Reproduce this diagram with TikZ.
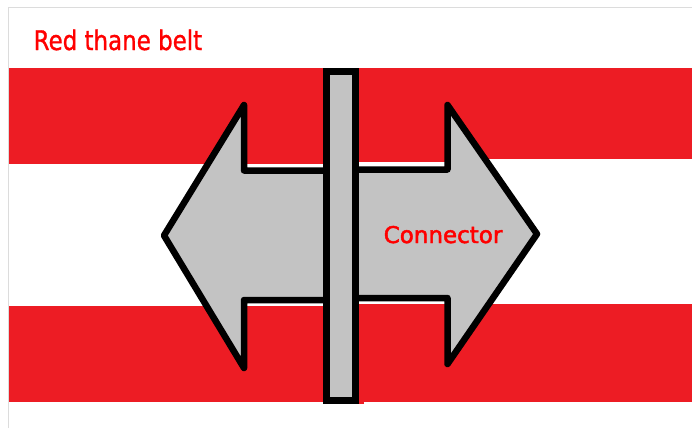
\documentclass[tikz,border=0pt]{standalone}
\usepackage{fontspec}
\setmainfont{DejaVu Sans}
\newfontfamily\beltfont[FakeBold=1.2]{DejaVu Sans}
\newfontfamily\connectorfont[FakeBold=2]{DejaVu Sans}
\definecolor{beltred}{RGB}{237,28,36}
\definecolor{partgrey}{RGB}{195,195,195}
\definecolor{edgegrey}{RGB}{220,220,220}
\begin{document}
\begin{tikzpicture}[x=1pt, y=-1pt, every node/.style={text=red, inner sep=0pt}]
  \useasboundingbox (0,0) rectangle (692,428);
  % Cadre
  \draw[edgegrey, line width=1pt] (8.5,428) -- (8.5,7.5) -- (692,7.5);
  % Bandes
  \fill[beltred] (9,68) rectangle (323,164);
  \fill[beltred] (358,68) rectangle (692,159);
  \fill[beltred] (358,159) rectangle (447,161.5);
  \fill[beltred] (9,306) rectangle (326,402);
  \fill[beltred] (358,304) rectangle (692,402);
  \fill[beltred] (359,402) rectangle (364,403.5);
  \fill[beltred] (359,308) circle (2.5);
  \fill[beltred] (444,308) circle (2.5);
  \fill[beltred] (359,159) circle (2.5);
  % Fleche double
  \coordinate (tipL) at (164,235.5);
  \coordinate (barbLT) at (244,105);
  \coordinate (notchLT) at (244,170.5);
  \coordinate (notchRT) at (447.5,169.5);
  \coordinate (barbRT) at (447.5,105);
  \coordinate (tipR) at (537,234);
  \coordinate (barbRB) at (447.5,364);
  \coordinate (notchRB) at (447.5,298);
  \coordinate (notchLB) at (244,300);
  \coordinate (barbLB) at (244,368);
  \draw[fill=partgrey, line width=6.5pt, line join=round]
    (tipL) -- (barbLT) -- (notchLT) -- (340,170.5) -- (340,169.5) -- (notchRT) -- (barbRT)
    -- (tipR) -- (barbRB) -- (notchRB) -- (340,298) -- (340,300) -- (notchLB) -- (barbLB) -- cycle;
  % Barre
  \draw[fill=partgrey, line width=7pt] (326,71.5) rectangle (355.5,400);
  % Textes
  \node[anchor=base west, font=\beltfont\fontsize{27}{27}\selectfont, xscale=0.85, transform shape] (belt) at (33.5,50) {Red thane belt};
  \node[anchor=base west, font=\connectorfont\fontsize{23}{23}\selectfont, xscale=1.0, transform shape] (connector) at (383.5,243) {Connector};
\end{tikzpicture}
\end{document}
